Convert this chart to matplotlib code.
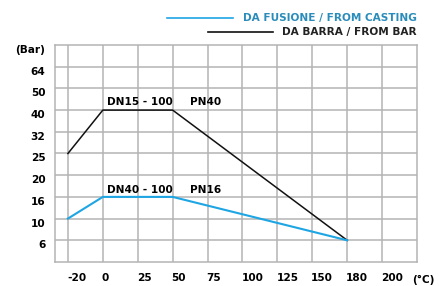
import matplotlib.pyplot as plt
from matplotlib.lines import Line2D
from matplotlib.transforms import ScaledTranslation

temps = [-20, 0, 25, 50, 75, 100, 125, 150, 180, 200]
pressures = [6, 10, 16, 20, 25, 32, 40, 50, 64]

bar_t = [-20, 0, 50, 180]
bar_p = [25, 40, 40, 6]
cast_t = [-20, 0, 50, 180]
cast_p = [10, 16, 16, 6]

grid_c = '#b4b4b4'
blue = '#1ea5e3'
blue_txt = '#2a8cba'

def xi(t):
    return temps.index(t)

def yi(p):
    return pressures.index(p)

plt.rcParams['font.family'] = 'DejaVu Sans'
plt.rcParams['font.weight'] = 'bold'
fig = plt.figure(figsize=(4.46, 2.86), dpi=100)
ax = fig.add_axes([55/446, 1-262/286, 362/446, 217/286])

ax.set_xlim(-0.37, 10)
ax.set_ylim(-1, 9)
for i in range(len(temps)):
    ax.axvline(i, color=grid_c, lw=1.1, zorder=0)
for j in range(len(pressures)):
    ax.axhline(j, color=grid_c, lw=1.1, zorder=0)
for s in ax.spines.values():
    s.set_color(grid_c)
    s.set_linewidth(1.1)

ax.plot([xi(t) for t in bar_t], [yi(p) for p in bar_p], color='#111111', lw=1.1)
ax.plot([xi(t) for t in cast_t], [yi(p) for p in cast_p], color=blue, lw=1.5)

fs = 7.6
ax.set_xticks(range(len(temps)))
ax.set_xticklabels([str(t) for t in temps], fontsize=fs, fontweight='bold', ha='left')
ax.set_yticks(list(range(len(pressures))) + [9])
ax.set_yticklabels([str(p) for p in pressures] + ['(Bar)'], fontsize=fs, fontweight='bold')
ax.tick_params(length=0, pad=7)
ax.tick_params(axis='x', pad=8)
off = ScaledTranslation(0, -4/100, fig.dpi_scale_trans)
for lab in ax.get_yticklabels():
    lab.set_transform(lab.get_transform() + off)
offx = ScaledTranslation(-1/100, 0, fig.dpi_scale_trans)
for lab in ax.get_xticklabels():
    lab.set_transform(lab.get_transform() + offx)

ax.text(1.11, 6.39, 'DN15 - 100', fontsize=fs, fontweight='bold', va='center')
ax.text(3.49, 6.39, 'PN40', fontsize=fs, fontweight='bold', va='center')
ax.text(1.11, 2.34, 'DN40 - 100', fontsize=fs, fontweight='bold', va='center')
ax.text(3.49, 2.34, 'PN16', fontsize=fs, fontweight='bold', va='center')

fig.text(412/446, 1-280/286, '(°C)', fontsize=fs, fontweight='bold', va='center')

# legend
fig.add_artist(Line2D([167/446, 233/446], [1-18/286, 1-18/286], color=blue, lw=1.2))
fig.text(417/446, 1-18/286, 'DA FUSIONE / FROM CASTING', color=blue_txt, fontsize=fs,
         fontweight='bold', ha='right', va='center')
fig.add_artist(Line2D([208/446, 273/446], [1-32/286, 1-32/286], color='#111111', lw=1.2))
fig.text(417/446, 1-32/286, 'DA BARRA / FROM BAR', color='#222222', fontsize=fs,
         fontweight='bold', ha='right', va='center')

fig.savefig('out.png', dpi=100)
